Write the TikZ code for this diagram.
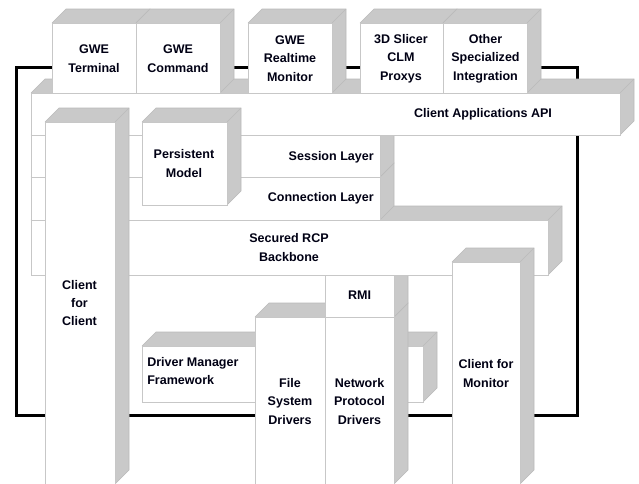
\documentclass[tikz,border=0pt]{standalone}
\usepackage{fontspec}
\setmainfont{Liberation Sans}
\newcommand\gwecube[4]{%
  \fill[sideface] (#1,#2) -- (#1+14,#2-14) -- (#3+14,#2-14) -- (#3,#2) -- cycle;
  \fill[sideface] (#3,#2) -- (#3+14,#2-14) -- (#3+14,#4-14) -- (#3,#4) -- cycle;
  \draw[faceline] (#1,#2) -- (#1+14,#2-14) -- (#3+14,#2-14) -- (#3+14,#4-14) -- (#3,#4);
  \draw[faceline] (#3,#2) -- (#3+14,#2-14);
  \filldraw[frontface] (#1,#2) rectangle (#3,#4);
}
\begin{document}
\begin{tikzpicture}[x=0.75pt,y=-0.75pt,
  sideface/.style={fill=black!21},
  faceline/.style={draw=black!27,line width=0.4pt},
  frontface/.style={fill=white,draw=black!22,line width=0.75pt},
  frameline/.style={draw=black,line width=2.25pt,line join=miter},
  lbl/.style={font=\bfseries\fontsize{9.4}{13.8}\selectfont,align=center,inner sep=0pt,text=black!92!blue}]
\useasboundingbox (0,0) rectangle (639,483);
\fill[white] (0,0) rectangle (639,483);
% outer frame
\draw[frameline] (16,67) rectangle (577,415);
% lower boxes
\gwecube{142}{346}{423}{402}
\gwecube{255}{317}{325}{484}
\gwecube{325}{317}{394}{484}
\gwecube{325}{275}{394}{317}
% layer slabs
\gwecube{31}{220}{548}{275}
\gwecube{31}{177}{380}{220}
\gwecube{31}{135}{380}{177}
\gwecube{31}{93}{620}{135}
% top row
\gwecube{52}{23}{136}{93}
\gwecube{136}{23}{220}{93}
\gwecube{248}{23}{332}{93}
\gwecube{360}{23}{443}{93}
\gwecube{443}{23}{527}{93}
% front boxes
\gwecube{142}{122}{227}{205}
\gwecube{45}{122}{115}{484}
\gwecube{452}{262}{520}{484}
% labels
\node[lbl] (term) at (94,58.5) {GWE\\Terminal};
\node[lbl] (cmd) at (178,58.5) {GWE\\Command};
\node[lbl] (rtm) at (290,58.5) {GWE\\Realtime\\Monitor};
\node[lbl] (slicer) at (401,58.5) {3D Slicer\\CLM\\Proxys};
\node[lbl] (other) at (485.5,58.5) {Other\\Specialized\\Integration};
\node[lbl] (api) at (483,114) {Client Applications API};
\node[lbl,anchor=east] (session) at (374,157) {Session Layer};
\node[lbl,anchor=east] (conn) at (374,198) {Connection Layer};
\node[lbl] (pers) at (184,163.5) {Persistent\\Model};
\node[lbl] (rcp) at (289,247.5) {Secured RCP\\Backbone};
\node[lbl] (rmi) at (359.5,295.5) {RMI};
\node[lbl] (cfc) at (79.5,303) {Client\\for\\Client};
\node[lbl,align=left,anchor=west] (dmf) at (147,371) {Driver Manager\\Framework};
\node[lbl] (fsd) at (290,401.5) {File\\System\\Drivers};
\node[lbl] (npd) at (359.5,401.5) {Network\\Protocol\\Drivers};
\node[lbl] (cfm) at (486,373.5) {Client for\\Monitor};
\end{tikzpicture}
\end{document}
